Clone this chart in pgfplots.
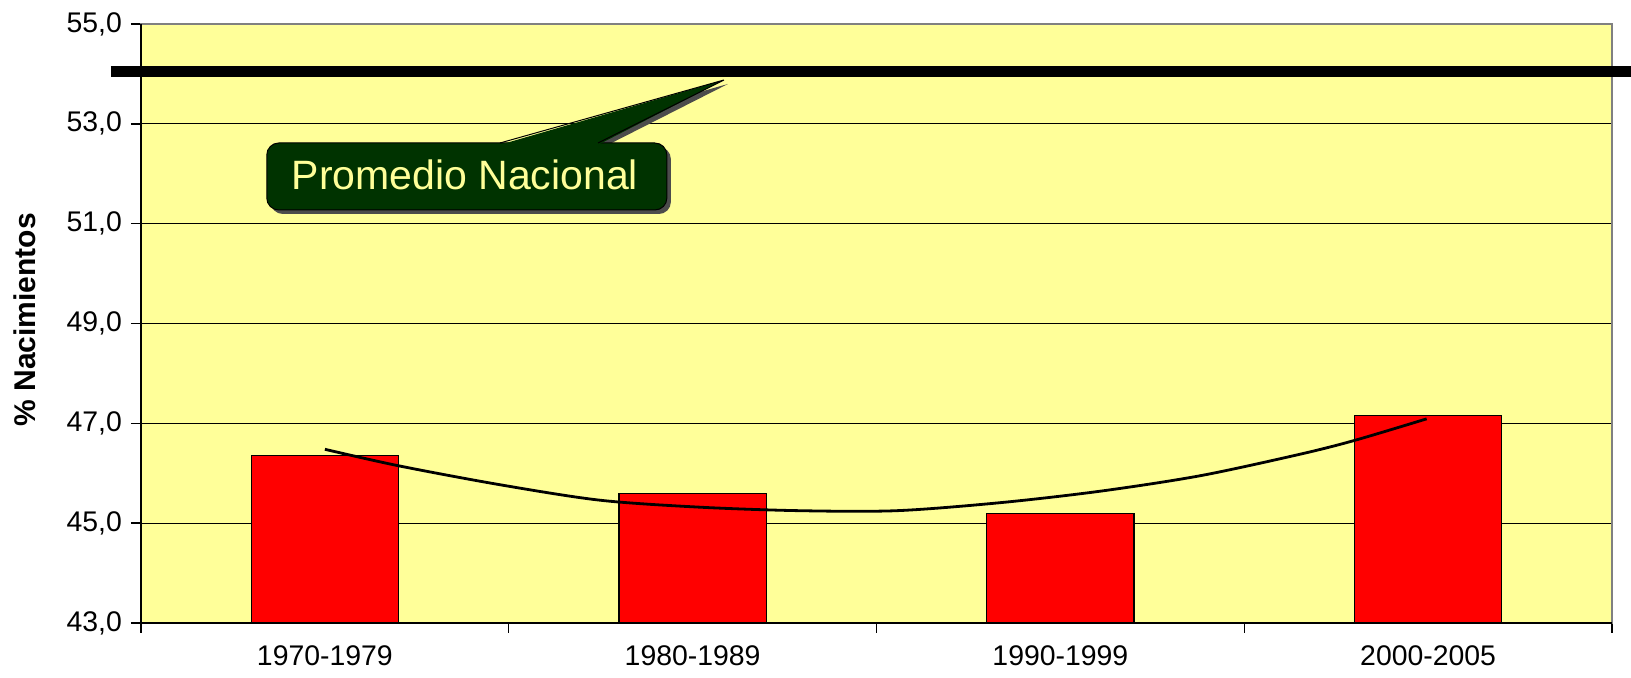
\documentclass[border=0pt]{standalone}
\usepackage{pgfplots}
\pgfplotsset{compat=1.18}
\usepackage{fontspec}
\setmainfont{Liberation Sans}
\definecolor{plotbg}{HTML}{FFFF99}
\definecolor{calloutgreen}{HTML}{003300}
\definecolor{callouttext}{HTML}{FFFF99}
\definecolor{barred}{HTML}{FF0000}

\begin{document}
\begin{tikzpicture}
\useasboundingbox (-70.5pt,-27.5pt) rectangle (745pt,311.5pt);
\begin{axis}[
    scale only axis,
    width=735.5pt, height=299.5pt,
    xmin=-0.5, xmax=3.5,
    ymin=43, ymax=55,
    ytick={43,45,...,55},
    xtick={-0.5,0.5,1.5,2.5,3.5},
    xticklabels={,,,,},
    extra x ticks={0,1,2,3},
    extra x tick labels={1970-1979,1980-1989,1990-1999,2000-2005},
    extra x tick style={major tick length=0pt, grid=none,
        xticklabel style={yshift=-10pt, inner sep=1pt}},
    ytick pos=left, xtick pos=bottom,
    tick align=outside,
    major tick length=5pt,
    tick style={black, line width=0.7pt},
    ymajorgrids,
    grid style={black, line width=0.6pt},
    axis background/.style={fill=plotbg},
    axis line style={draw=gray, line width=0.8pt},
    every tick label/.append style={font=\fontsize{14.2}{16}\selectfont},
    yticklabel style={xshift=-1pt},
    /pgf/number format/assume math mode=true,
    /pgf/number format/.cd, fixed, fixed zerofill, precision=1, use comma,
    /pgfplots/.cd,
    ylabel={\textbf{\% Nacimientos}},
    every axis y label/.append style={at={(axis description cs:-0.079,0.506)},
        anchor=center, font=\fontsize{15}{17}\selectfont},
    clip mode=individual,
]
\addplot[ybar, bar width=0.4, fill=barred, draw=black, line width=0.6pt]
    coordinates {(0,46.36) (1,45.59) (2,45.19) (3,47.15)};
% polynomial trend line
\addplot[black, line width=1.4pt, smooth]
    coordinates {(0,46.48) (0.2,46.15) (0.476,45.77) (0.748,45.46)
                 (1.02,45.32) (1.29,45.25) (1.555,45.25) (1.836,45.41)
                 (2.108,45.64) (2.38,45.95) (2.651,46.38) (2.801,46.66)
                 (2.996,47.09)};
% national average
\addplot[black, line width=5.3pt, clip=false]
    coordinates {(-0.582,54.05) (3.552,54.05)};
\draw[black, line width=0.8pt] (rel axis cs:0,1) -- (rel axis cs:0,0) -- (rel axis cs:1,0);
% callout
\begin{scope}[shift={(2pt,-2pt)}]
  \fill[black!70, rounded corners=6pt] (axis cs:-0.158,51.274) rectangle (axis cs:0.930,52.616);
  \fill[black!70] (axis cs:0.476,52.6) -- (axis cs:1.085,53.878) -- (axis cs:0.743,52.6) -- cycle;
\end{scope}
\draw[fill=calloutgreen, draw=black, rounded corners=6pt, line width=0.5pt]
    (axis cs:-0.158,51.274) rectangle (axis cs:0.930,52.616);
\fill[calloutgreen] (axis cs:0.476,52.58) -- (axis cs:1.085,53.878) -- (axis cs:0.743,52.58) -- cycle;
\draw[black, line width=0.5pt] (axis cs:0.476,52.616) -- (axis cs:1.085,53.878) -- (axis cs:0.743,52.616);
\node[text=callouttext, font=\fontsize{20.5}{23}\selectfont] at (axis cs:0.381,51.97) {Promedio Nacional};
\end{axis}
\end{tikzpicture}
\end{document}
